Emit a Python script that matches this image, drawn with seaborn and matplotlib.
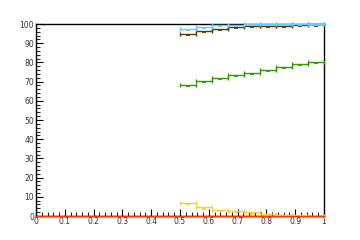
import numpy as np
import matplotlib
matplotlib.use("Agg")
import matplotlib.pyplot as plt
import seaborn as sns
from matplotlib.ticker import MultipleLocator

sns.set_style("ticks")
plt.rcParams['font.family'] = ['DejaVu Sans']

# bin edges (9 bins from 0.5 to 1.0)
bin_edges = [0.5, 0.5556, 0.6111, 0.6667, 0.7222, 0.7778, 0.8333, 0.8889, 0.9444, 1.0]

light_blue = [97.5, 98.3, 99.6, 99.7, 99.9, 100.0, 100.0, 100.0, 100.0]
brown = [94.8, 96.2, 97.6, 98.3, 98.8, 99.0, 99.0, 99.6, 99.8]
green = [68.1, 70.5, 71.7, 73.3, 74.5, 75.9, 77.6, 79.0, 80.2]
yellow = [6.6, 4.5, 3.1, 2.6, 1.9, 1.0, 0.7, 0.5, 0.2]
red_x = [0.0, 1.0]
red_y = [0.0, 0.0]

x_ticks = [0, 0.1, 0.2, 0.3, 0.4, 0.5, 0.6, 0.7, 0.8, 0.9, 1.0]
x_tick_labels = ["0", "0.1", "0.2", "0.3", "0.4", "0.5", "0.6", "0.7", "0.8", "0.9", "1"]
y_ticks = [0, 10, 20, 30, 40, 50, 60, 70, 80, 90, 100]

edges = np.array(bin_edges)
centers = (edges[:-1] + edges[1:]) / 2
halfw = (edges[1:] - edges[:-1]) / 2

fig = plt.figure(figsize=(3.6, 2.4), dpi=100)
ax = fig.add_axes([0.1, 0.1, 0.8, 0.8])

series = [
    (brown, "#663300"),
    (light_blue, "#66ccff"),
    (green, "#339900"),
    (yellow, "#ffcc33"),
]
for vals, col in series:
    eb = ax.errorbar(centers, vals, xerr=halfw, fmt='none', ecolor=col,
                     elinewidth=1.0, capsize=1.7, capthick=1.0, zorder=4)
    for art in eb.lines[1] + eb.lines[2]:
        art.set_clip_on(False)
    ax.plot(centers, np.array(vals) - 0.6, linestyle='none', marker='_',
            markersize=3.0, mew=1.3, color=col, zorder=4)

sns.lineplot(x=red_x, y=red_y, ax=ax, color="#ff3300", linewidth=1.0,
             zorder=5, clip_on=False)

ax.set_xlim(0, 1)
ax.set_ylim(0, 100)
ax.set_xticks(x_ticks)
ax.set_xticklabels(x_tick_labels)
ax.set_yticks(y_ticks)
ax.xaxis.set_minor_locator(MultipleLocator(0.02))
ax.yaxis.set_minor_locator(MultipleLocator(2))
ax.tick_params(which='major', direction='in', length=5, width=0.8,
               labelsize=5.5, pad=1.5, colors='black', labelcolor='#333333')
ax.tick_params(axis='x', which='major', pad=0.8)
ax.tick_params(which='minor', direction='in', length=2.8, width=0.8)
ax.tick_params(top=False, right=False, which='both')
for s in ax.spines.values():
    s.set_linewidth(1.0)
    s.set_color('black')
    s.set_zorder(3)

fig.savefig("out.png", dpi=100)
